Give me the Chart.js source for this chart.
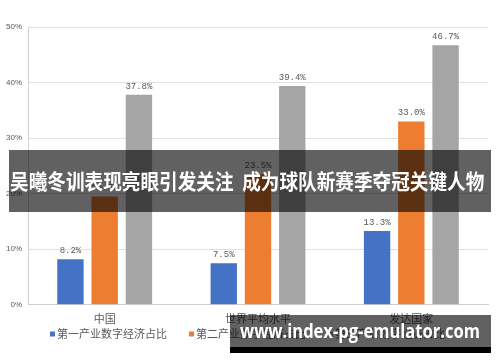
<!DOCTYPE html>
<html>
<head>
<meta charset="utf-8">
<script src="https://cdn.jsdelivr.net/npm/chart.js@4/dist/chart.umd.min.js"></script>
<style>
html,body{margin:0;padding:0;background:#fff;}
#wrap{position:relative;width:500px;height:362px;overflow:hidden;}
canvas{position:absolute;left:0;top:0;}
#banner{position:absolute;left:9px;top:150px;width:482px;height:62px;background:rgba(0,0,0,0.62);}
#banner span{position:absolute;left:1px;top:17px;font-family:"Noto Sans CJK SC";font-weight:bold;font-size:21px;line-height:26px;color:#fff;white-space:nowrap;word-spacing:5px;transform-origin:0 0;transform:scaleX(0.887);}
#wm{position:absolute;left:230px;top:315px;width:261px;height:32px;background:rgba(0,0,0,0.62);}
#wmb{position:absolute;left:230px;top:347px;width:261px;height:6px;background:#000;}
#wm span{position:absolute;left:10px;top:4px;font-family:"Open Sans";font-weight:bold;font-size:20px;line-height:24px;color:#fff;white-space:nowrap;transform-origin:0 0;}
</style>
</head>
<body>
<div id="wrap">
<canvas id="c" width="500" height="362"></canvas>
<div id="banner"><span id="bt">吴曦冬训表现亮眼引发关注 成为球队新赛季夺冠关键人物</span></div>
<div id="wm"><span id="wt">www.index-pg-emulator.com</span></div>
<div id="wmb"></div>
</div>
<script>
const categories = ['中国', '世界平均水平', '发达国家'];
const seriesNames = ['第一产业数字经济占比', '第二产业数字经济占比', '第三产业数字经济占比'];
const primary = [8.2, 7.5, 13.3];
const secondary = [19.5, 23.5, 33.0];
const tertiary = [37.8, 39.4, 46.7];
const yTicks = [0, 10, 20, 30, 40, 50];
const colors = ['#4472C4', '#ED7D31', '#A5A5A5'];

function fitW(id, w){
  const el = document.getElementById(id);
  el.style.transform = 'none';
  const r = el.getBoundingClientRect().width;
  el.style.transform = 'scaleX(' + (w / r) + ')';
}
fitW('wt', 240);
if (document.fonts && document.fonts.ready) document.fonts.ready.then(() => fitW('wt', 240));

const valueLabels = {
  id: 'valueLabels',
  afterDatasetsDraw(chart){
    const ctx = chart.ctx;
    ctx.save();
    ctx.font = '9px "Liberation Mono"';
    ctx.fillStyle = '#595959';
    ctx.textAlign = 'center';
    ctx.textBaseline = 'bottom';
    chart.data.datasets.forEach((ds, i) => {
      chart.getDatasetMeta(i).data.forEach((bar, j) => {
        ctx.fillText(ds.data[j].toFixed(1) + '%', bar.x, bar.y - 4);
      });
    });
    ctx.restore();
  }
};

// legend drawn from the dataset labels/colours
const bottomLegend = {
  id: 'bottomLegend',
  afterDraw(chart){
    const ctx = chart.ctx;
    ctx.save();
    ctx.font = '11px "Noto Sans CJK SC"';
    ctx.textBaseline = 'middle';
    ctx.textAlign = 'left';
    const y = 334, box = 5, gapBox = 2, gapItem = 22;
    let x = 50;
    chart.data.datasets.forEach(ds => {
      ctx.fillStyle = ds.backgroundColor;
      ctx.fillRect(x, y - box / 2, box, box);
      x += box + gapBox;
      ctx.fillStyle = '#595959';
      ctx.fillText(ds.label, x, y);
      x += ctx.measureText(ds.label).width + gapItem;
    });
    ctx.restore();
  }
};

new Chart(document.getElementById('c'), {
  type: 'bar',
  data: {
    labels: categories,
    datasets: [
      {label: seriesNames[0], data: primary, backgroundColor: colors[0]},
      {label: seriesNames[1], data: secondary, backgroundColor: colors[1]},
      {label: seriesNames[2], data: tertiary, backgroundColor: colors[2]}
    ]
  },
  options: {
    responsive: false,
    animation: false,
    devicePixelRatio: 1,
    layout: {padding: {top: 27, right: 12, left: 0, bottom: 30}},
    datasets: {bar: {categoryPercentage: 0.67, barPercentage: 0.77}},
    scales: {
      x: {
        grid: {display: false, drawTicks: false},
        border: {color: '#d0d0d0'},
        ticks: {color: '#595959', font: {family: '"Noto Sans CJK SC"', size: 11}, padding: 7}
      },
      y: {
        min: 0, max: 50,
        afterBuildTicks(axis){ axis.ticks = yTicks.map(v => ({value: v})); },
        grid: {color: '#e0e0e0', drawTicks: false},
        border: {color: '#d0d0d0'},
        ticks: {color: '#595959', font: {family: '"Liberation Sans"', size: 8}, padding: 6, callback: v => v + '%'}
      }
    },
    plugins: {
      legend: {display: false},
      tooltip: {enabled: false}
    }
  },
  plugins: [valueLabels, bottomLegend]
});
</script>
</body>
</html>
